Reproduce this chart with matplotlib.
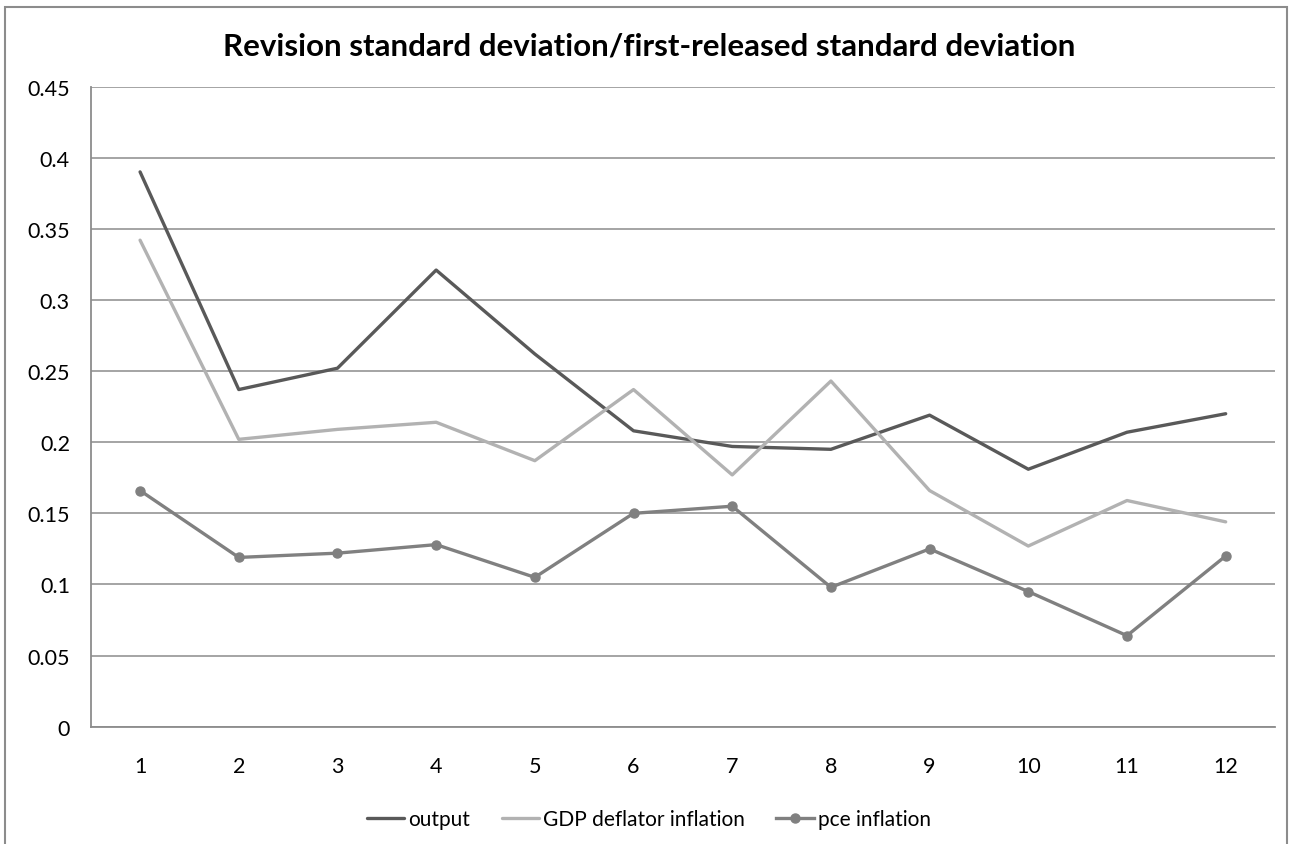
import matplotlib
matplotlib.use("Agg")
import matplotlib.pyplot as plt
from matplotlib.patches import Rectangle

categories = [1, 2, 3, 4, 5, 6, 7, 8, 9, 10, 11, 12]
output = [0.390, 0.237, 0.252, 0.321, 0.262, 0.208, 0.197, 0.195, 0.219, 0.181, 0.207, 0.220]
gdp_deflator = [0.342, 0.202, 0.209, 0.214, 0.187, 0.237, 0.177, 0.243, 0.166, 0.127, 0.159, 0.144]
pce = [0.166, 0.119, 0.122, 0.128, 0.105, 0.150, 0.155, 0.098, 0.125, 0.095, 0.064, 0.120]
yticks = [0, 0.05, 0.1, 0.15, 0.2, 0.25, 0.3, 0.35, 0.4, 0.45]
ytick_labels = ["0", "0.05", "0.1", "0.15", "0.2", "0.25", "0.3", "0.35", "0.4", "0.45"]

plt.rcParams['font.family'] = ['Lato', 'DejaVu Sans']

fig = plt.figure(figsize=(12.98, 8.45), dpi=100)
ax = fig.add_axes([0.0699, 0.1388, 0.9124, 0.7576])

grid_c = "#8c8c8c"
ax.plot(categories, output, color="#595959", lw=2.4, solid_capstyle="round", label="output", zorder=3)
ax.plot(categories, gdp_deflator, color="#b2b2b2", lw=2.4, solid_capstyle="round", label="GDP deflator inflation", zorder=3)
ax.plot(categories, pce, color="#808080", lw=2.4, marker="o", ms=6.5, label="pce inflation", zorder=4)

ax.set_xlim(0.5, 12.5)
ax.set_ylim(0, 0.45)
ax.set_xticks(categories)
ax.set_xticklabels([str(c) for c in categories])
ax.set_yticks(yticks)
ax.set_yticklabels(ytick_labels)
ax.yaxis.grid(True, color=grid_c, lw=1.1)
ax.set_axisbelow(True)
ax.tick_params(axis="both", length=0, labelsize=15.5, colors="black")
ax.tick_params(axis="x", pad=21)
ax.tick_params(axis="y", pad=15)
for s in ["top", "right"]:
    ax.spines[s].set_visible(False)
for s in ["left", "bottom"]:
    ax.spines[s].set_color(grid_c)
    ax.spines[s].set_linewidth(1.3)

fig.text(0.5, 0.945, "Revision standard deviation/first-released standard deviation",
         ha="center", va="center", fontsize=22.5, fontweight="bold")

leg = fig.legend(loc="center", bbox_to_anchor=(0.5, 0.029), ncol=3, frameon=False,
                 fontsize=15, handlelength=1.8, handletextpad=0.2, columnspacing=1.5,
                 borderaxespad=0, borderpad=0)

fig.patches.append(Rectangle((5/1298, -0.05), 1282/1298, 1.05 - 8/845, transform=fig.transFigure,
                             fill=False, edgecolor=grid_c, lw=1.5))

fig.savefig("out.png", dpi=100)
